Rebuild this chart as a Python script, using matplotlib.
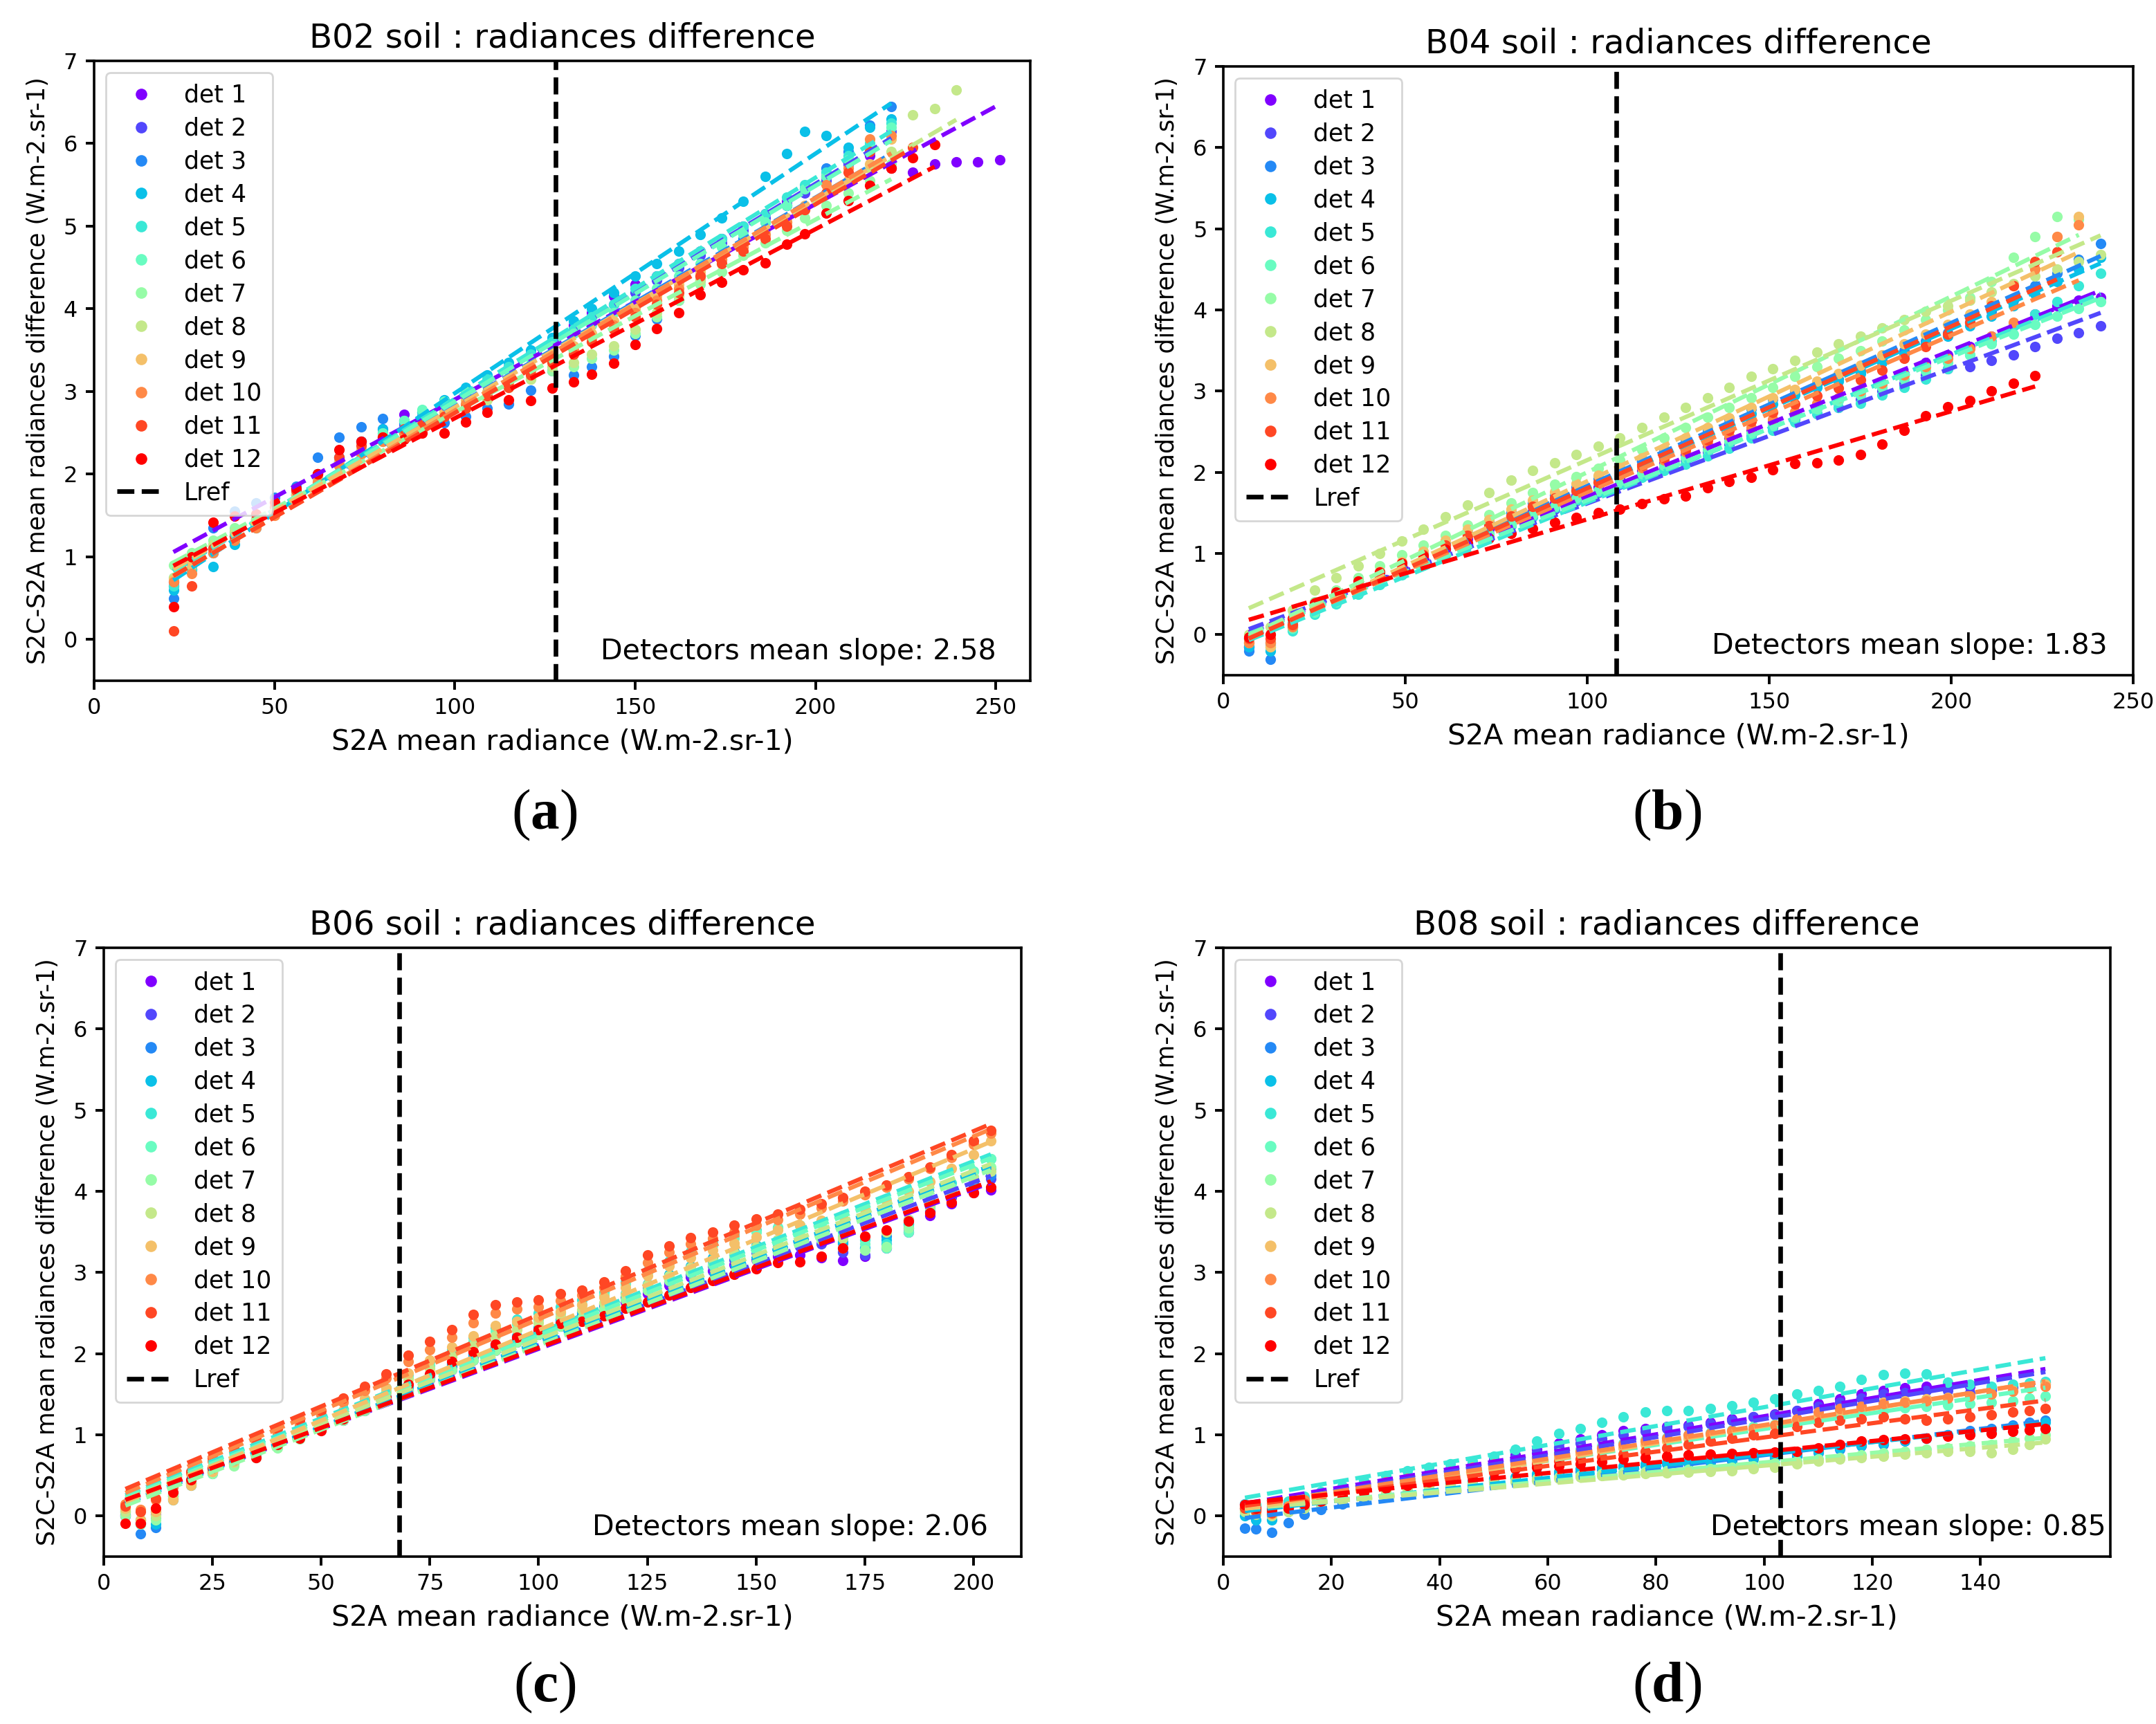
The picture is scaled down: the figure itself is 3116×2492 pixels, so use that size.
import numpy as np
import matplotlib
matplotlib.use("Agg")
import matplotlib.pyplot as plt
from matplotlib.lines import Line2D

plt.rcParams["mathtext.fontset"] = "custom"
plt.rcParams["mathtext.rm"] = "Liberation Serif"
plt.rcParams["mathtext.bf"] = "Liberation Serif:bold"

# ---------------- data ----------------
det_labels = ["det %d" % i for i in range(1, 13)]

# (a) B02
x_a = [22, 27, 33, 39, 45, 50, 56, 62, 68, 74, 80, 86, 91, 97, 103, 109, 115, 121, 127, 133,
       138, 144, 150, 156, 162, 168, 174, 180, 186, 192, 197, 203, 209, 215, 221, 227, 233, 239, 245, 251]
y_a = [
    [0.70, 0.95, 1.10, 1.30, 1.45, 1.60, 1.80, 2.00, 2.20, 2.40, 2.55, 2.72, 2.70, 2.80, 2.95, 3.10, 3.25, 3.45, 3.60, 3.80,
     3.95, 4.15, 4.30, 4.40, 4.55, 4.70, 4.85, 5.00, 5.15, 5.30, 5.45, 5.60, 5.75, 5.85, 5.70, 5.65, 5.75, 5.78, 5.78, 5.80],
    [0.65, 0.90, 1.05, 1.25, 1.40, 1.55, 1.75, 1.95, 2.15, 2.30, 2.45, 2.60, 2.65, 2.80, 2.95, 3.10, 3.30, 3.45, 3.60, 3.75,
     3.90, 4.05, 4.20, 4.35, 4.50, 4.65, 4.80, 4.95, 5.10, 5.25, 5.40, 5.55, 5.75, 5.90, 6.15],
    [0.50, 0.85, 1.35, 1.55, 1.65, 1.72, 1.85, 2.20, 2.45, 2.57, 2.67, 2.62, 2.55, 2.62, 2.70, 2.80, 2.85, 3.02, 3.25, 3.20,
     3.30, 3.43, 3.68, 3.88, 4.10, 4.35, 4.60, 4.85, 5.05, 5.25, 5.45, 5.70, 5.90, 6.22, 6.45],
    [0.60, 0.85, 0.88, 1.15, 1.35, 1.55, 1.75, 2.00, 2.20, 2.40, 2.55, 2.65, 2.75, 2.90, 3.05, 3.20, 3.35, 3.50, 3.65, 3.85,
     4.00, 4.20, 4.40, 4.55, 4.70, 4.90, 5.10, 5.30, 5.60, 5.88, 6.15, 6.10, 5.95, 6.20, 6.30],
    [0.65, 0.85, 1.05, 1.25, 1.45, 1.60, 1.75, 1.95, 2.15, 2.30, 2.50, 2.65, 2.75, 2.85, 3.00, 3.15, 3.30, 3.45, 3.60, 3.75,
     3.90, 4.05, 4.25, 4.40, 4.55, 4.70, 4.85, 5.00, 5.15, 5.35, 5.50, 5.65, 5.85, 6.00, 6.25],
    [0.75, 0.90, 1.10, 1.25, 1.40, 1.55, 1.75, 1.95, 2.10, 2.30, 2.50, 2.65, 2.78, 2.88, 3.00, 3.10, 3.25, 3.40, 3.55, 3.70,
     3.80, 3.95, 4.10, 4.25, 4.40, 4.55, 4.75, 4.90, 5.05, 5.25, 5.45, 5.60, 5.80, 5.95, 6.20],
    [0.90, 1.05, 1.20, 1.35, 1.45, 1.60, 1.75, 1.95, 2.10, 2.25, 2.40, 2.55, 2.65, 2.75, 2.85, 2.95, 3.05, 3.15, 3.25, 3.30,
     3.40, 3.50, 3.70, 3.90, 4.10, 4.30, 4.45, 4.65, 4.80, 4.95, 5.10, 5.25, 5.40, 5.55, 5.75],
    [0.75, 0.95, 1.15, 1.30, 1.45, 1.55, 1.70, 1.90, 2.10, 2.25, 2.40, 2.50, 2.60, 2.70, 2.80, 2.90, 3.05, 3.15, 3.30, 3.35,
     3.45, 3.55, 3.75, 3.95, 4.15, 4.35, 4.55, 4.75, 4.90, 5.05, 5.20, 5.40, 5.55, 5.70, 5.90, 6.35, 6.42, 6.65],
    [0.72, 0.90, 1.10, 1.25, 1.40, 1.55, 1.75, 1.95, 2.15, 2.30, 2.45, 2.55, 2.65, 2.75, 2.90, 3.00, 3.15, 3.30, 3.45, 3.55,
     3.70, 3.85, 4.00, 4.15, 4.30, 4.45, 4.60, 4.80, 4.95, 5.10, 5.25, 5.40, 5.55, 5.75, 6.05],
    [0.70, 0.80, 1.05, 1.20, 1.35, 1.50, 1.70, 1.90, 2.10, 2.25, 2.40, 2.50, 2.60, 2.70, 2.85, 2.95, 3.10, 3.25, 3.40, 3.50,
     3.65, 3.80, 3.95, 4.10, 4.25, 4.40, 4.60, 4.75, 4.90, 5.05, 5.20, 5.50, 5.70, 6.05, 6.10],
    [0.10, 0.65, 1.10, 1.25, 1.40, 1.60, 1.80, 2.00, 2.20, 2.35, 2.45, 2.55, 2.60, 2.70, 2.80, 2.95, 3.05, 3.20, 3.35, 3.45,
     3.60, 3.75, 3.90, 4.05, 4.20, 4.40, 4.55, 4.70, 4.85, 5.00, 5.20, 5.40, 5.65, 5.90, 5.70, 5.95],
    [0.40, 1.00, 1.42, 1.49, 1.52, 1.66, 1.83, 2.00, 2.30, 2.40, 2.45, 2.42, 2.50, 2.50, 2.63, 2.75, 2.90, 2.89, 3.04, 3.12,
     3.21, 3.34, 3.57, 3.76, 3.95, 4.17, 4.32, 4.47, 4.56, 4.78, 4.91, 5.16, 5.31, 5.49, 5.70, 5.83, 5.99],
]

# (b) B04
x_b = [7, 13, 19, 25, 31, 37, 43, 49, 55, 61, 67, 73, 79, 85, 91, 97, 103, 109, 115, 121,
       127, 133, 139, 145, 151, 157, 163, 169, 175, 181, 187, 193, 199, 205, 211, 217, 223, 229, 235, 241]
y_b = [
    [-0.15, -0.10, 0.12, 0.32, 0.45, 0.58, 0.70, 0.82, 0.95, 1.06, 1.18, 1.30, 1.42, 1.52, 1.62, 1.72, 1.82, 1.92, 2.02, 2.12,
     2.22, 2.32, 2.42, 2.52, 2.62, 2.72, 2.80, 2.90, 3.00, 3.10, 3.22, 3.35, 3.45, 3.55, 3.68, 3.80, 3.95, 4.05, 4.12, 4.15],
    [-0.15, -0.12, 0.10, 0.30, 0.42, 0.55, 0.67, 0.78, 0.90, 1.00, 1.12, 1.24, 1.35, 1.45, 1.55, 1.65, 1.75, 1.85, 1.95, 2.05,
     2.15, 2.25, 2.35, 2.45, 2.55, 2.65, 2.72, 2.80, 2.90, 3.00, 3.10, 3.20, 3.28, 3.30, 3.38, 3.45, 3.55, 3.65, 3.72, 3.80],
    [-0.20, -0.30, 0.15, 0.35, 0.48, 0.62, 0.75, 0.88, 1.00, 1.12, 1.25, 1.38, 1.50, 1.62, 1.72, 1.82, 1.92, 2.02, 2.15, 2.28,
     2.40, 2.52, 2.65, 2.78, 2.90, 3.00, 3.08, 3.15, 3.25, 3.38, 3.50, 3.62, 3.72, 3.85, 3.98, 4.12, 4.30, 4.45, 4.62, 4.82],
    [-0.15, -0.20, 0.10, 0.32, 0.45, 0.60, 0.73, 0.86, 0.98, 1.10, 1.22, 1.35, 1.47, 1.58, 1.68, 1.78, 1.88, 1.98, 2.10, 2.22,
     2.35, 2.48, 2.60, 2.72, 2.84, 2.95, 3.05, 3.12, 3.22, 3.35, 3.45, 3.58, 3.68, 3.80, 3.92, 4.05, 4.20, 4.35, 4.50, 4.65],
    [-0.10, -0.15, 0.05, 0.25, 0.38, 0.50, 0.62, 0.74, 0.86, 0.98, 1.10, 1.22, 1.34, 1.45, 1.56, 1.66, 1.76, 1.86, 1.94, 2.02,
     2.10, 2.20, 2.30, 2.42, 2.52, 2.62, 2.72, 2.80, 2.85, 2.95, 3.05, 3.15, 3.28, 3.45, 3.62, 3.80, 3.95, 4.10, 4.30, 4.45],
    [-0.05, -0.10, 0.08, 0.28, 0.40, 0.52, 0.64, 0.76, 0.88, 1.00, 1.12, 1.24, 1.36, 1.48, 1.58, 1.68, 1.78, 1.88, 1.98, 2.08,
     2.18, 2.28, 2.38, 2.48, 2.58, 2.68, 2.78, 2.88, 2.95, 3.05, 3.15, 3.25, 3.35, 3.45, 3.58, 3.70, 3.82, 3.92, 4.02, 4.10],
    [-0.05, 0.00, 0.18, 0.40, 0.55, 0.70, 0.85, 0.98, 1.10, 1.22, 1.35, 1.48, 1.62, 1.75, 1.85, 1.95, 2.05, 2.15, 2.28, 2.42,
     2.55, 2.68, 2.80, 2.92, 3.05, 3.18, 3.30, 3.40, 3.50, 3.62, 3.75, 3.88, 4.00, 4.15, 4.35, 4.65, 4.90, 5.15, 5.12],
    [0.00, 0.10, 0.30, 0.55, 0.70, 0.85, 1.00, 1.15, 1.30, 1.45, 1.60, 1.75, 1.90, 2.02, 2.12, 2.22, 2.32, 2.42, 2.55, 2.68,
     2.80, 2.92, 3.05, 3.18, 3.28, 3.38, 3.48, 3.58, 3.68, 3.78, 3.88, 3.98, 4.05, 4.12, 4.22, 4.32, 4.42, 4.50, 4.60, 4.68],
    [-0.10, -0.15, 0.12, 0.35, 0.50, 0.64, 0.78, 0.90, 1.03, 1.16, 1.30, 1.42, 1.55, 1.66, 1.76, 1.86, 1.96, 2.06, 2.18, 2.30,
     2.42, 2.55, 2.67, 2.80, 2.92, 3.02, 3.12, 3.22, 3.32, 3.45, 3.58, 3.70, 3.82, 3.95, 4.10, 4.30, 4.60, 4.90, 5.15],
    [-0.10, -0.10, 0.10, 0.32, 0.46, 0.60, 0.73, 0.85, 0.97, 1.10, 1.22, 1.34, 1.46, 1.58, 1.68, 1.78, 1.88, 1.97, 2.06, 2.15,
     2.25, 2.35, 2.45, 2.55, 2.65, 2.75, 2.85, 2.92, 3.00, 3.10, 3.20, 3.30, 3.40, 3.52, 3.68, 3.85, 4.50, 4.90, 5.05],
    [-0.05, -0.05, 0.12, 0.33, 0.47, 0.60, 0.73, 0.86, 0.98, 1.10, 1.22, 1.34, 1.46, 1.58, 1.68, 1.78, 1.88, 1.98, 2.08, 2.18,
     2.28, 2.40, 2.52, 2.63, 2.74, 2.84, 2.94, 3.04, 3.14, 3.26, 3.40, 3.55, 3.70, 3.85, 4.05, 4.30, 4.60, 4.72],
    [-0.03, 0.00, 0.20, 0.39, 0.52, 0.66, 0.77, 0.88, 0.97, 1.05, 1.13, 1.19, 1.25, 1.31, 1.38, 1.44, 1.50, 1.55, 1.61, 1.67,
     1.71, 1.81, 1.89, 1.94, 2.03, 2.11, 2.12, 2.15, 2.22, 2.35, 2.52, 2.70, 2.81, 2.88, 3.00, 3.10, 3.19],
]

# (c) B06
x_c = [5, 8.5, 12, 16, 20, 25, 30, 35, 40, 45, 50, 55, 60, 65, 70, 75, 80, 85, 90, 95, 100,
       105, 110, 115, 120, 125, 130, 135, 140, 145, 150, 155, 160, 165, 170, 175, 180, 185, 190, 195, 200, 204]
y_c = [
    [0.00, -0.08, 0.02, 0.24, 0.40, 0.54, 0.65, 0.76, 0.87, 0.97, 1.07, 1.18, 1.30, 1.42, 1.55, 1.68, 1.80, 1.92, 2.04, 2.14, 2.24,
     2.34, 2.44, 2.54, 2.64, 2.74, 2.84, 2.94, 3.02, 3.10, 3.16, 3.20, 3.22, 3.18, 3.15, 3.20, 3.30, 3.50, 3.70, 3.85, 3.98, 4.02],
    [0.02, -0.05, 0.05, 0.25, 0.42, 0.56, 0.67, 0.78, 0.89, 0.99, 1.10, 1.21, 1.33, 1.45, 1.58, 1.71, 1.84, 1.96, 2.08, 2.18, 2.28,
     2.38, 2.48, 2.58, 2.68, 2.78, 2.88, 2.98, 3.08, 3.16, 3.24, 3.30, 3.32, 3.35, 3.25, 3.22, 3.35, 3.55, 3.75, 3.92, 4.05, 4.15],
    [0.00, -0.22, -0.14, 0.22, 0.40, 0.54, 0.66, 0.78, 0.90, 1.00, 1.11, 1.23, 1.35, 1.47, 1.60, 1.73, 1.86, 1.98, 2.10, 2.20, 2.30,
     2.40, 2.50, 2.60, 2.70, 2.82, 2.94, 3.04, 3.14, 3.22, 3.30, 3.36, 3.40, 3.44, 3.36, 3.30, 3.45, 3.65, 3.85, 4.00, 4.10, 4.20],
    [0.05, -0.10, -0.10, 0.20, 0.38, 0.52, 0.64, 0.76, 0.88, 0.99, 1.10, 1.22, 1.34, 1.46, 1.60, 1.74, 1.88, 2.00, 2.12, 2.22, 2.32,
     2.42, 2.52, 2.62, 2.74, 2.86, 2.98, 3.08, 3.18, 3.26, 3.34, 3.40, 3.44, 3.48, 3.38, 3.30, 3.40, 3.60, 3.82, 4.00, 4.15, 4.28],
    [0.08, -0.08, -0.02, 0.28, 0.45, 0.58, 0.70, 0.82, 0.95, 1.06, 1.18, 1.30, 1.44, 1.58, 1.74, 1.90, 2.05, 2.20, 2.32, 2.42, 2.50,
     2.58, 2.66, 2.76, 2.88, 3.02, 3.14, 3.26, 3.38, 3.46, 3.52, 3.56, 3.58, 3.62, 3.50, 3.40, 3.35, 3.60, 3.90, 4.10, 4.25, 4.40],
    [0.05, -0.05, 0.05, 0.25, 0.42, 0.55, 0.66, 0.78, 0.90, 1.02, 1.14, 1.27, 1.40, 1.54, 1.70, 1.85, 2.00, 2.15, 2.28, 2.36, 2.42,
     2.50, 2.60, 2.72, 2.86, 3.00, 3.12, 3.24, 3.34, 3.42, 3.50, 3.55, 3.58, 3.60, 3.45, 3.35, 3.30, 3.50, 3.80, 4.05, 4.25, 4.40],
    [0.00, -0.10, -0.05, 0.25, 0.40, 0.52, 0.62, 0.72, 0.84, 0.95, 1.06, 1.18, 1.30, 1.42, 1.55, 1.68, 1.80, 1.92, 2.04, 2.14, 2.24,
     2.34, 2.44, 2.55, 2.66, 2.78, 2.90, 3.00, 3.10, 3.20, 3.30, 3.38, 3.44, 3.40, 3.30, 3.28, 3.32, 3.55, 3.80, 4.00, 4.18, 4.30],
    [0.05, -0.05, 0.00, 0.22, 0.40, 0.55, 0.66, 0.78, 0.90, 1.00, 1.12, 1.25, 1.38, 1.52, 1.68, 1.82, 1.96, 2.10, 2.22, 2.30, 2.38,
     2.46, 2.54, 2.63, 2.73, 2.85, 2.96, 3.06, 3.16, 3.24, 3.32, 3.40, 3.46, 3.50, 3.42, 3.45, 3.50, 3.65, 3.85, 4.00, 4.15, 4.25],
    [0.10, -0.05, 0.05, 0.20, 0.38, 0.55, 0.68, 0.80, 0.92, 1.04, 1.16, 1.30, 1.44, 1.58, 1.76, 1.92, 2.08, 2.22, 2.35, 2.40, 2.45,
     2.52, 2.60, 2.70, 2.82, 2.96, 3.08, 3.18, 3.28, 3.36, 3.44, 3.52, 3.58, 3.64, 3.70, 3.78, 3.88, 4.00, 4.12, 4.28, 4.45, 4.62],
    [0.15, 0.08, 0.20, 0.35, 0.52, 0.68, 0.80, 0.90, 1.02, 1.12, 1.25, 1.40, 1.55, 1.70, 1.90, 2.05, 2.20, 2.38, 2.50, 2.55, 2.58,
     2.65, 2.72, 2.82, 2.95, 3.12, 3.25, 3.35, 3.42, 3.50, 3.58, 3.65, 3.72, 3.80, 3.88, 3.96, 4.05, 4.15, 4.28, 4.42, 4.58, 4.72],
    [0.12, 0.05, 0.22, 0.38, 0.55, 0.72, 0.85, 0.95, 1.08, 1.18, 1.30, 1.45, 1.60, 1.75, 1.98, 2.15, 2.30, 2.48, 2.60, 2.64, 2.66,
     2.74, 2.78, 2.88, 3.02, 3.22, 3.33, 3.43, 3.50, 3.58, 3.66, 3.72, 3.78, 3.85, 3.92, 4.00, 4.08, 4.18, 4.30, 4.45, 4.62, 4.75],
    [-0.09, -0.09, 0.10, 0.29, 0.45, 0.59, 0.69, 0.72, 0.88, 0.96, 1.05, 1.20, 1.34, 1.46, 1.62, 1.75, 1.90, 2.02, 2.12, 2.20, 2.30,
     2.37, 2.40, 2.47, 2.56, 2.64, 2.72, 2.82, 2.90, 2.98, 3.05, 3.12, 3.13, 3.20, 3.30, 3.45, 3.52, 3.63, 3.74, 3.86, 3.98, 4.05],
]

# (d) B08
x_d = [4, 6, 9, 12, 15, 18, 22, 26, 30, 34, 38, 42, 46, 50, 54, 58, 62, 66, 70, 74,
       78, 82, 86, 90, 94, 98, 102, 106, 110, 114, 118, 122, 126, 130, 134, 138, 142, 146, 149, 152]
y_d = [
    [0.15, 0.12, 0.10, 0.15, 0.20, 0.25, 0.30, 0.36, 0.42, 0.47, 0.52, 0.58, 0.65, 0.70, 0.75, 0.82, 0.90, 0.95, 1.00, 1.05,
     1.08, 1.10, 1.12, 1.15, 1.20, 1.22, 1.26, 1.30, 1.38, 1.44, 1.50, 1.55, 1.58, 1.60, 1.62, 1.60, 1.58, 1.60, 1.62, 1.65],
    [0.10, 0.05, 0.05, 0.12, 0.18, 0.24, 0.29, 0.34, 0.40, 0.45, 0.50, 0.55, 0.60, 0.66, 0.72, 0.78, 0.85, 0.90, 0.95, 1.00,
     1.04, 1.08, 1.10, 1.14, 1.18, 1.22, 1.25, 1.30, 1.35, 1.40, 1.45, 1.50, 1.52, 1.55, 1.55, 1.52, 1.55, 1.58, 1.60, 1.62],
    [-0.15, -0.16, -0.20, -0.08, 0.02, 0.08, 0.15, 0.20, 0.26, 0.30, 0.34, 0.38, 0.40, 0.43, 0.46, 0.50, 0.52, 0.55, 0.57, 0.60,
     0.62, 0.64, 0.65, 0.66, 0.68, 0.70, 0.71, 0.74, 0.78, 0.82, 0.86, 0.88, 0.92, 0.96, 1.00, 1.05, 1.08, 1.12, 1.15, 1.18],
    [0.00, -0.05, -0.05, 0.05, 0.10, 0.15, 0.20, 0.25, 0.30, 0.34, 0.37, 0.40, 0.43, 0.46, 0.48, 0.52, 0.55, 0.58, 0.60, 0.62,
     0.64, 0.66, 0.67, 0.68, 0.70, 0.72, 0.73, 0.76, 0.80, 0.84, 0.87, 0.90, 0.93, 0.96, 1.00, 1.03, 1.06, 1.10, 1.12, 1.15],
    [0.15, 0.14, 0.12, 0.18, 0.24, 0.30, 0.37, 0.44, 0.50, 0.56, 0.60, 0.64, 0.68, 0.74, 0.82, 0.92, 1.02, 1.08, 1.15, 1.22,
     1.28, 1.30, 1.30, 1.32, 1.36, 1.40, 1.44, 1.50, 1.55, 1.60, 1.68, 1.74, 1.76, 1.75, 1.65, 1.62, 1.60, 1.62, 1.64, 1.66],
    [0.10, 0.08, 0.06, 0.12, 0.18, 0.23, 0.28, 0.33, 0.38, 0.42, 0.46, 0.50, 0.55, 0.60, 0.66, 0.72, 0.78, 0.82, 0.86, 0.90,
     0.94, 0.97, 1.00, 1.03, 1.06, 1.10, 1.13, 1.16, 1.20, 1.24, 1.28, 1.30, 1.33, 1.35, 1.37, 1.38, 1.40, 1.42, 1.45, 1.48],
    [0.08, 0.05, 0.02, 0.06, 0.10, 0.15, 0.20, 0.25, 0.30, 0.34, 0.36, 0.38, 0.40, 0.42, 0.44, 0.46, 0.48, 0.50, 0.52, 0.54,
     0.55, 0.56, 0.57, 0.58, 0.60, 0.62, 0.65, 0.68, 0.70, 0.72, 0.75, 0.78, 0.80, 0.82, 0.84, 0.86, 0.88, 0.92, 0.96, 1.00],
    [0.05, 0.02, 0.00, 0.05, 0.10, 0.14, 0.19, 0.24, 0.28, 0.31, 0.34, 0.36, 0.38, 0.40, 0.42, 0.44, 0.46, 0.48, 0.50, 0.51,
     0.52, 0.53, 0.54, 0.55, 0.56, 0.58, 0.60, 0.64, 0.68, 0.70, 0.72, 0.74, 0.76, 0.78, 0.80, 0.80, 0.78, 0.82, 0.88, 0.95],
    [0.10, 0.05, 0.02, 0.10, 0.18, 0.24, 0.30, 0.35, 0.40, 0.44, 0.48, 0.52, 0.56, 0.60, 0.64, 0.68, 0.72, 0.76, 0.80, 0.84,
     0.88, 0.92, 0.96, 1.00, 1.04, 1.08, 1.12, 1.18, 1.24, 1.30, 1.35, 1.40, 1.42, 1.44, 1.46, 1.48, 1.50, 1.55, 1.58, 1.62],
    [0.12, 0.08, 0.05, 0.12, 0.20, 0.26, 0.32, 0.37, 0.42, 0.46, 0.50, 0.55, 0.60, 0.64, 0.68, 0.72, 0.76, 0.80, 0.84, 0.88,
     0.92, 0.96, 1.00, 1.02, 1.05, 1.08, 1.12, 1.20, 1.28, 1.32, 1.35, 1.38, 1.40, 1.42, 1.45, 1.48, 1.50, 1.54, 1.58, 1.60],
    [0.10, 0.06, 0.04, 0.10, 0.16, 0.22, 0.28, 0.33, 0.38, 0.42, 0.45, 0.48, 0.52, 0.56, 0.60, 0.64, 0.68, 0.70, 0.73, 0.76,
     0.80, 0.84, 0.88, 0.92, 0.96, 1.00, 1.02, 1.10, 1.15, 1.18, 1.20, 1.22, 1.20, 1.18, 1.20, 1.22, 1.25, 1.28, 1.30, 1.32],
    [0.14, 0.10, 0.08, 0.10, 0.14, 0.18, 0.24, 0.29, 0.34, 0.38, 0.42, 0.46, 0.50, 0.54, 0.58, 0.60, 0.62, 0.64, 0.67, 0.70,
     0.72, 0.74, 0.75, 0.76, 0.77, 0.78, 0.79, 0.80, 0.84, 0.88, 0.92, 0.94, 0.95, 0.96, 0.98, 1.00, 1.02, 1.04, 1.06, 1.08],
]

bands = ["B02", "B04", "B06", "B08"]
lref = [128, 108, 68, 103]
mean_slopes = ["2.58", "1.83", "2.06", "0.85"]
panel_tags = ["a", "b", "c", "d"]

# ---------------- layout ----------------
W, H = 3116, 2492
DPI = 200
fig = plt.figure(figsize=(W / DPI, H / DPI), dpi=DPI)

# axes boxes [left, bottom, width, height] in figure fraction
boxes = [
    [0.0436, 0.6051, 0.4344, 0.3596],
    [0.5674, 0.6083, 0.4221, 0.3532],
    [0.0481, 0.0971, 0.4256, 0.3531],
    [0.5674, 0.0971, 0.4114, 0.3531],
]
xlims = [(0, 259.6), (0, 250), (0, 211), (0, 164)]
xticks = [range(0, 251, 50), range(0, 251, 50), range(0, 201, 25), range(0, 141, 20)]
text_x = [0.963, 0.971, 0.964, 0.995]
tag_pos = [(0.2526, 0.527), (0.773, 0.527), (0.2526, 0.021), (0.773, 0.021)]

colors = plt.cm.rainbow(np.linspace(0, 1, 12))


def draw_panel(ax, xs, ys, band, ref, slope, k):
    for i, yv in enumerate(ys):
        xv = np.array(xs[:len(yv)], dtype=float)
        yv = np.array(yv)
        ax.scatter(xv, yv, s=30, color=colors[i], zorder=2, linewidths=0)
        # linear fit per detector
        a, b = np.polyfit(xv, yv, 1)
        xx = np.array([xv.min(), xv.max()])
        ax.plot(xx, a * xx + b, "--", color=colors[i], lw=2.2, zorder=3)
    ax.axvline(ref, color="k", ls="--", lw=2.4, zorder=4)

    ax.set_xlim(*xlims[k])
    ax.set_ylim(-0.5, 7)
    ax.set_xticks(list(xticks[k]))
    ax.set_yticks(range(0, 8))
    ax.tick_params(labelsize=11.5, length=4.5, width=1.4, pad=4)
    for sp in ax.spines.values():
        sp.set_linewidth(1.3)

    ax.set_title(band + " soil : radiances difference", fontsize=17.4, pad=7)
    ax.set_xlabel("S2A mean radiance (W.m-2.sr-1)", fontsize=14.8, labelpad=5)
    ax.set_ylabel("S2C-S2A mean radiances difference (W.m-2.sr-1)", fontsize=12.5, labelpad=7)
    ax.text(text_x[k], 0.025, "Detectors mean slope: " + slope, transform=ax.transAxes,
            ha="right", va="bottom", fontsize=14.8)

    handles = [Line2D([], [], ls="", marker="o", ms=6, mec="none", color=colors[i])
               for i in range(12)]
    handles.append(Line2D([], [], ls="--", color="k", lw=2.4))
    leg = ax.legend(handles, det_labels + ["Lref"], loc="upper left",
                    prop=dict(size=12.5), handlelength=2.0,
                    labelspacing=0.4, borderpad=0.45, framealpha=0.8)
    leg.get_frame().set_linewidth(1.0)


all_x = [x_a, x_b, x_c, x_d]
all_y = [y_a, y_b, y_c, y_d]
for k in range(4):
    ax = fig.add_axes(boxes[k])
    draw_panel(ax, all_x[k], all_y[k], bands[k], lref[k], mean_slopes[k], k)
    fig.text(tag_pos[k][0], tag_pos[k][1], "($\\mathbf{%s}$)" % panel_tags[k],
             ha="center", va="center", fontsize=30, family="Liberation Serif")

fig.savefig("out.png", dpi=DPI)
